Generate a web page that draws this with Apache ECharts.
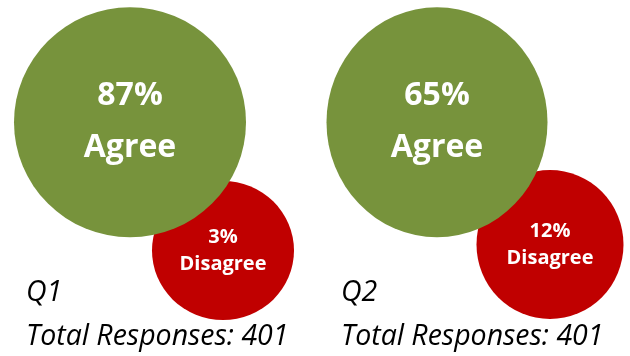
<!DOCTYPE html>
<html><head><meta charset="utf-8">
<script src="https://cdn.jsdelivr.net/npm/echarts@6/dist/echarts.min.js"></script>
<style>html,body{margin:0;padding:0;background:#fff}#c{width:630px;height:356px}</style>
</head><body><div id="c"></div>
<script>
// ---- data ----
const questions = ['Q1', 'Q2'];
const agreePct = [87, 65];
const disagreePct = [3, 12];
const totalResponses = [401, 401];
const rows = ['Agree', 'Disagree'];

// ---- layout (px) ----
const agreeSize = [[232, 230], [221, 230]];
const agreeOffset = [[0, 0], [0, 0]];
const disagreeSize = [[142, 139], [147, 149]];
const disagreeOffset = [[93, 3], [113, -3]];
const titleLeft = [26, 341];

const GREEN = '#77933C', RED = '#C00000';

const chart = echarts.init(document.getElementById('c'), null, {renderer: 'canvas'});

const agreeData = questions.map((q, i) => ({
  value: [q, 'Agree'], symbolSize: agreeSize[i], symbolOffset: agreeOffset[i]
}));
const disagreeData = questions.map((q, i) => ({
  value: [q, 'Disagree'], symbolSize: disagreeSize[i], symbolOffset: disagreeOffset[i]
}));

chart.setOption({
  animation: false,
  backgroundColor: '#fff',
  title: questions.map((q, i) => ({
    text: q + '\nTotal Responses: ' + totalResponses[i],
    left: titleLeft[i], top: 270.5, padding: 0,
    textStyle: {fontFamily: 'Open Sans', fontStyle: 'italic', fontWeight: 'normal',
      fontSize: 28.5, lineHeight: 44, color: '#000'}
  })),
  grid: {left: 130, right: 193, top: 122.3, bottom: 108.5},
  xAxis: {type: 'category', data: questions, boundaryGap: false, show: false},
  yAxis: {type: 'category', data: rows, inverse: true, boundaryGap: false, show: false},
  series: [
    {
      name: 'Disagree', type: 'scatter', silent: true, z: 2,
      symbol: 'circle', data: disagreeData,
      itemStyle: {color: RED, opacity: 1},
      label: {show: true, position: 'inside', color: '#fff', fontFamily: 'Open Sans',
        fontWeight: 'bold', fontSize: 20, lineHeight: 27,
        formatter: p => disagreePct[p.dataIndex] + '%\nDisagree'}
    },
    {
      name: 'Agree', type: 'scatter', silent: true, z: 3,
      symbol: 'circle', data: agreeData,
      itemStyle: {color: GREEN, opacity: 1},
      label: {show: true, position: 'inside', color: '#fff', fontFamily: 'Open Sans',
        fontWeight: 'bold', fontSize: 32, lineHeight: 52,
        formatter: p => agreePct[p.dataIndex] + '%\nAgree'}
    }
  ]
});
</script></body></html>
